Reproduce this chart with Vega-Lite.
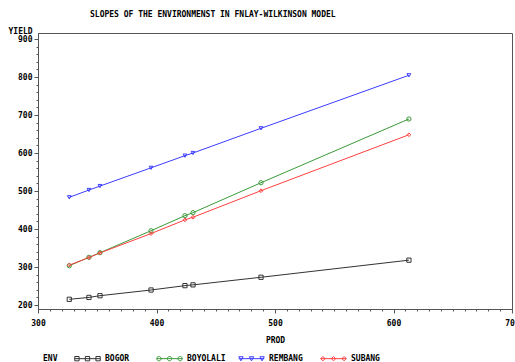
{
  "$schema": "https://vega.github.io/schema/vega-lite/v6.json",
  "width": 474,
  "height": 276,
  "autosize": "none",
  "padding": {"left": 38, "top": 33, "right": 3, "bottom": 53},
  "background": "#ffffff",
  "title": {
    "text": "SLOPES OF THE ENVIRONMENST IN FNLAY-WILKINSON MODEL",
    "anchor": "start",
    "frame": "group",
    "dx": 52,
    "offset": 8,
    "font": "DejaVu Sans Mono",
    "fontSize": 8,
    "fontWeight": "bold",
    "color": "#000000"
  },
  "config": {
    "view": {"stroke": "#555555", "strokeWidth": 1},
    "axis": {
      "labelFont": "DejaVu Sans Mono",
      "labelFontSize": 8,
      "labelFontWeight": "bold",
      "labelColor": "#000000",
      "titleFont": "DejaVu Sans Mono",
      "titleFontSize": 8,
      "titleFontWeight": "bold",
      "titleColor": "#000000",
      "domainColor": "#555555",
      "tickColor": "#555555",
      "grid": false
    },
    "legend": {
      "labelFont": "DejaVu Sans Mono",
      "labelFontSize": 8,
      "labelFontWeight": "bold",
      "labelColor": "#000000",
      "titleFont": "DejaVu Sans Mono",
      "titleFontSize": 8,
      "titleFontWeight": "bold",
      "titleColor": "#000000"
    }
  },
  "data": {
    "values": [
      {"ENV": "BOGOR", "PROD": 326.4, "YIELD": 215},
      {"ENV": "BOGOR", "PROD": 343, "YIELD": 220},
      {"ENV": "BOGOR", "PROD": 352.3, "YIELD": 224.5},
      {"ENV": "BOGOR", "PROD": 395.4, "YIELD": 239.5},
      {"ENV": "BOGOR", "PROD": 424, "YIELD": 251},
      {"ENV": "BOGOR", "PROD": 430.8, "YIELD": 253},
      {"ENV": "BOGOR", "PROD": 488.2, "YIELD": 273},
      {"ENV": "BOGOR", "PROD": 613, "YIELD": 318},
      {"ENV": "BOYOLALI", "PROD": 326.4, "YIELD": 303.4},
      {"ENV": "BOYOLALI", "PROD": 343, "YIELD": 325.5},
      {"ENV": "BOYOLALI", "PROD": 352.3, "YIELD": 337.6},
      {"ENV": "BOYOLALI", "PROD": 395.4, "YIELD": 395.5},
      {"ENV": "BOYOLALI", "PROD": 424, "YIELD": 435},
      {"ENV": "BOYOLALI", "PROD": 430.8, "YIELD": 443},
      {"ENV": "BOYOLALI", "PROD": 488.2, "YIELD": 521.8},
      {"ENV": "BOYOLALI", "PROD": 613, "YIELD": 689.5},
      {"ENV": "REMBANG", "PROD": 326.4, "YIELD": 483.4},
      {"ENV": "REMBANG", "PROD": 343, "YIELD": 502.6},
      {"ENV": "REMBANG", "PROD": 352.3, "YIELD": 513},
      {"ENV": "REMBANG", "PROD": 395.4, "YIELD": 561},
      {"ENV": "REMBANG", "PROD": 424, "YIELD": 593},
      {"ENV": "REMBANG", "PROD": 430.8, "YIELD": 600},
      {"ENV": "REMBANG", "PROD": 488.2, "YIELD": 665},
      {"ENV": "REMBANG", "PROD": 613, "YIELD": 804.5},
      {"ENV": "SUBANG", "PROD": 326.4, "YIELD": 305},
      {"ENV": "SUBANG", "PROD": 343, "YIELD": 325},
      {"ENV": "SUBANG", "PROD": 352.3, "YIELD": 337},
      {"ENV": "SUBANG", "PROD": 395.4, "YIELD": 388},
      {"ENV": "SUBANG", "PROD": 424, "YIELD": 424},
      {"ENV": "SUBANG", "PROD": 430.8, "YIELD": 431},
      {"ENV": "SUBANG", "PROD": 488.2, "YIELD": 500.8},
      {"ENV": "SUBANG", "PROD": 613, "YIELD": 648}
    ]
  },
  "encoding": {
    "x": {
      "field": "PROD",
      "type": "quantitative",
      "scale": {"domain": [300, 700], "nice": false, "zero": false},
      "axis": {
        "title": "PROD",
        "titleY": 31,
        "titleBaseline": "middle",
        "values": [300,310,320,330,340,350,360,370,380,390,400,410,420,430,440,450,460,470,480,490,500,510,520,530,540,550,560,570,580,590,600,610,620,630,640,650,660,670,680,690,700],
        "labelExpr": "datum.value % 100 === 0 ? datum.label : ''",
        "labelFlush": false,
        "labelOverlap": false,
        "labelPadding": 6,
        "tickSize": {"condition": {"test": "datum.value % 100 === 0", "value": 4}, "value": 2}
      }
    },
    "y": {
      "field": "YIELD",
      "type": "quantitative",
      "scale": {"domain": [189.5, 915.8], "nice": false, "zero": false},
      "axis": {
        "title": "YIELD",
        "titleAngle": 0,
        "titleAlign": "left",
        "titleX": -30,
        "titleY": -2,
        "titleBaseline": "middle",
        "values": [200,220,240,260,280,300,320,340,360,380,400,420,440,460,480,500,520,540,560,580,600,620,640,660,680,700,720,740,760,780,800,820,840,860,880,900],
        "labelExpr": "datum.value % 100 === 0 ? datum.label : ''",
        "labelOverlap": false,
        "labelPadding": 2,
        "tickSize": {"condition": {"test": "datum.value % 100 === 0", "value": 4}, "value": 2}
      }
    },
    "color": {
      "field": "ENV",
      "type": "nominal",
      "scale": {
        "domain": ["BOGOR", "BOYOLALI", "REMBANG", "SUBANG"],
        "range": ["#333333", "#3a9a3a", "#3c3cff", "#ff4040"]
      }
    }
  },
  "layer": [
    {
      "mark": {"type": "line", "strokeWidth": 1},
      "encoding": {
        "color": {
          "field": "ENV",
          "type": "nominal",
          "legend": {
            "title": "ENV",
            "orient": "none",
            "legendX": 5,
            "legendY": 312,
            "direction": "horizontal",
            "columns": 4,
            "gridAlign": "all",
            "titleOrient": "left",
            "titleAnchor": "middle",
            "titleBaseline": "middle",
            "titlePadding": 16,
            "padding": 0,
            "symbolSize": 650,
            "symbolStrokeWidth": 1,
            "labelOffset": 4,
            "columnPadding": 10,
            "encode": {
              "title": {"update": {"dy": {"value": 5}}},
              "symbols": {
                "update": {
                  "fill": {"value": "transparent"},
                  "shape": {"signal": "datum.value === 'BOGOR' ? 'M-1,0H1M-1,-0.17H-0.66V0.17H-1ZM-0.17,-0.17H0.17V0.17H-0.17ZM0.66,-0.17H1V0.17H0.66Z' : datum.value === 'BOYOLALI' ? 'M-1,0H1M-0.66,0A0.17,0.17,0,1,1,-1,0A0.17,0.17,0,1,1,-0.66,0ZM0.17,0A0.17,0.17,0,1,1,-0.17,0A0.17,0.17,0,1,1,0.17,0ZM1,0A0.17,0.17,0,1,1,0.66,0A0.17,0.17,0,1,1,1,0Z' : datum.value === 'REMBANG' ? 'M-1,0H1M-1,-0.15L-0.66,-0.15L-0.83,0.17ZM-0.17,-0.15L0.17,-0.15L0,0.17ZM0.66,-0.15L1,-0.15L0.83,0.17Z' : 'M-1,0H1M-1,0L-0.83,-0.17L-0.66,0L-0.83,0.17ZM-0.17,0L0,-0.17L0.17,0L0,0.17ZM0.66,0L0.83,-0.17L1,0L0.83,0.17Z'"}
                }
              }
            }
          }
        }
      }
    },
    {
      "transform": [{"filter": "datum.ENV === 'BOGOR'"}],
      "mark": {"type": "point", "shape": "square", "filled": false, "size": 18, "strokeWidth": 1, "opacity": 1},
      "encoding": {"color": {"field": "ENV", "type": "nominal", "legend": null}}
    },
    {
      "transform": [{"filter": "datum.ENV === 'BOYOLALI'"}],
      "mark": {"type": "point", "shape": "circle", "filled": false, "size": 18, "strokeWidth": 1, "opacity": 1},
      "encoding": {"color": {"field": "ENV", "type": "nominal", "legend": null}}
    },
    {
      "transform": [{"filter": "datum.ENV === 'REMBANG'"}],
      "mark": {"type": "point", "shape": "triangle-down", "filled": false, "size": 14, "strokeWidth": 1, "opacity": 1},
      "encoding": {"color": {"field": "ENV", "type": "nominal", "legend": null}}
    },
    {
      "transform": [{"filter": "datum.ENV === 'SUBANG'"}],
      "mark": {"type": "point", "shape": "diamond", "filled": false, "size": 14, "strokeWidth": 1, "opacity": 1},
      "encoding": {"color": {"field": "ENV", "type": "nominal", "legend": null}}
    }
  ]
}
